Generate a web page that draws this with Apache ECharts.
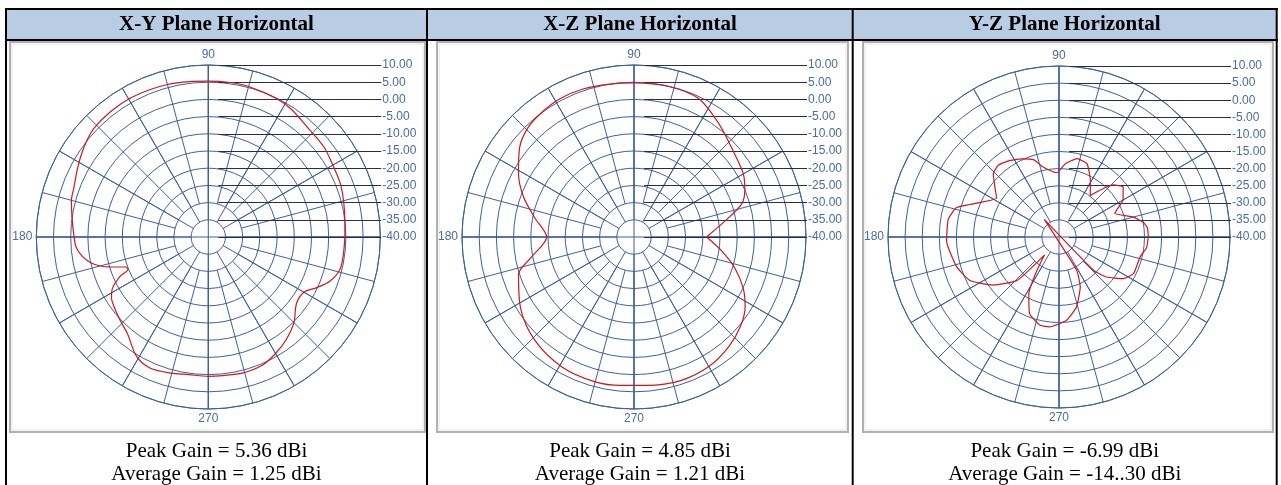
<!DOCTYPE html>
<html>
<head>
<meta charset="utf-8">
<script src="https://cdn.jsdelivr.net/npm/echarts@6/dist/echarts.min.js"></script>
<style>
html, body { margin: 0; padding: 0; background: #fff; }
#container { width: 1281px; height: 485px; }
</style>
</head>
<body>
<div id="container"></div>
<script>
// panel texts
var titles = ['X-Y Plane Horizontal', 'X-Z Plane Horizontal', 'Y-Z Plane Horizontal'];
var peakText = ['Peak Gain = 5.36 dBi', 'Peak Gain = 4.85 dBi', 'Peak Gain = -6.99 dBi'];
var avgText = ['Average Gain = 1.25 dBi', 'Average Gain = 1.21 dBi', 'Average Gain = -14..30 dBi'];

// gain scale (dBi) and labelled angles
var gainMin = -40, gainMax = 10, gainStep = 5;
var angleLabels = [90, 180, 270];

// X-Y plane: angle (deg) / gain (dBi)
var xyAngle = [0, 7, 15, 22, 30, 38, 48, 57, 64, 75, 82, 90, 97, 105, 112, 120, 128, 136, 141, 146, 150, 154, 160, 165, 172, 178,
  185, 192, 197, 200, 202, 204, 208, 212, 216, 223, 230, 239, 246, 254, 262, 270, 276, 284, 293, 300, 307, 315, 323, 330,
  335, 340, 346, 352, 360];
var xyGain = [-0.3, 0.0, 0.7, 1.4, 1.8, 2.6, 3.0, 4.3, 4.9, 5.3, 5.36, 5.3, 5.5, 5.9, 6.1, 6.3, 6.2, 5.9, 5.2, 4.2, 3.4, 2.6, 1.6, 1.2, 0.0, -0.8,
  -1.6, -4.8, -10.2, -14.5, -14.8, -12.0, -8.5, -6.8, -6.0, -4.8, -3.4, 0.5, 1.7, 1.1, 0.4, 0.5, 0.5, 0.8, 0.4, -0.9, -2.5, -4.8, -7.9, -7.9,
  -5.2, -2.4, -0.6, -0.4, -0.3];

// X-Z plane
var xzAngle = [0, 10, 17, 23, 30, 40, 53, 65, 77, 90, 99, 109, 118, 126, 134, 142, 151, 160, 169, 180, 191, 198, 212, 226, 241, 255,
  265, 275, 288, 300, 311, 320, 328, 335, 343, 351, 360];
var xzGain = [-18.9, -13.1, -7.3, -5.0, -3.3, -2.0, 1.1, 4.4, 4.9, 4.8, 5.0, 5.5, 5.6, 5.1, 4.3, 2.2, -1.6, -5.8, -10.6, -14.6, -9.7, -4.7, -1.1, 1.6, 3.2, 3.6,
  3.3, 3.3, 3.9, 3.5, 2.1, 0.4, -1.9, -5.0, -9.4, -14.2, -18.9];

// Y-Z plane
var yzAngle = [0, 6, 10, 15, 23, 30, 38, 44, 53, 61, 69, 77, 85, 92, 98, 104, 108, 115, 123, 130, 136, 142, 148, 160, 164, 171,
  182, 196, 206, 216, 226, 231, 237, 242, 249, 258, 264, 275, 284, 293, 298, 310, 316, 320, 327, 334, 346, 353, 360];
var yzGain = [-13.9, -14.0, -15.0, -17.5, -22.3, -18.4, -16.2, -18.1, -24.8, -21.1, -17.1, -16.5, -18.5, -21.2, -20.3, -18.5, -16.3, -14.8, -13.4, -12.5, -13.3, -16.2, -18.5, -12.2, -8.8, -7.2,
  -7.1, -8.8, -11.0, -16.1, -22.3, -33.3, -27.7, -21.2, -16.0, -13.6, -13.6, -15.5, -18.9, -24.1, -29.0, -46.7, -26.0, -21.8, -17.6, -15.7, -15.6, -14.2, -13.9];

var panels = [
  { angle: xyAngle, gain: xyGain },
  { angle: xzAngle, gain: xzGain },
  { angle: yzAngle, gain: yzGain }
];

// layout
var centers = [[208.3, 237], [634, 237], [1059, 237]];
var radii = [172, 172, 171];
var colCenters = [216.5, 640, 1064.7];
var frames = [[10, 42, 415, 390], [437, 42, 411, 390], [863, 42, 410, 390]];

var gridBlue = '#3f5fa3';
var labelBlue = '#4a6aa6';
var refLine = '#2c2c44';
var labelFont = '"Liberation Sans", Arial, sans-serif';
var serifFont = '"Liberation Serif", "Times New Roman", serif';

var dom = document.getElementById('container');
var myChart = echarts.init(dom, null, { renderer: 'canvas' });

var polar = [], angleAxis = [], radiusAxis = [], grid = [], xAxis = [], yAxis = [], series = [];

panels.forEach(function (p, i) {
  var c = centers[i], R = radii[i];
  // three stacked polars: axes through centre, 30 deg spokes from ring 1, 15 deg spokes from ring 2
  var inner = [0, R / 10, R / 5];
  var step = [90, 30, 15];
  for (var k = 0; k < 3; k++) {
    polar.push({ center: c, radius: [inner[k], R] });
    angleAxis.push({
      polarIndex: 3 * i + k,
      type: 'value', min: 0, max: 360, interval: step[k],
      startAngle: 0, clockwise: false,
      axisLine: { show: k === 0, lineStyle: { color: gridBlue, width: 1 } },
      axisTick: { show: false },
      axisLabel: {
        show: k === 0, margin: 4, color: labelBlue, fontSize: 12, fontFamily: labelFont,
        formatter: function (v) { return angleLabels.indexOf(v) >= 0 ? String(v) : ''; }
      },
      splitLine: { show: true, lineStyle: { color: gridBlue, width: 1 } },
      z: 1
    });
    radiusAxis.push({
      polarIndex: 3 * i + k,
      type: 'value', min: gainMin, max: gainMax, interval: gainStep,
      axisLine: { show: false }, axisTick: { show: false }, axisLabel: { show: false },
      splitLine: { show: k === 0, lineStyle: { color: gridBlue, width: 1 } },
      z: 1
    });
  }
  // horizontal reference lines with gain labels on the right
  grid.push({ left: c[0] + 10, top: c[1] - R, width: R - 9, height: R });
  xAxis.push({ gridIndex: i, type: 'value', min: 0, max: 1, show: false });
  yAxis.push({
    gridIndex: i, type: 'value', position: 'right',
    min: gainMin, max: gainMax, interval: gainStep,
    axisLine: { show: false }, axisTick: { show: false },
    axisLabel: {
      margin: 1, color: labelBlue, fontSize: 12, fontFamily: labelFont,
      formatter: function (v) { return v.toFixed(2); }
    },
    splitLine: { show: true, lineStyle: { color: refLine, width: 1 } },
    z: 2
  });
  series.push({
    type: 'line',
    coordinateSystem: 'polar',
    polarIndex: 3 * i,
    data: p.gain.map(function (g, k) { return [g, p.angle[k]]; }),
    symbol: 'none',
    smooth: i === 2 ? 0.15 : 0.3,
    lineStyle: { color: '#d01818', width: 1.2 },
    z: 10
  });
});

var graphic = [];
// header band
graphic.push({ type: 'rect', shape: { x: 6, y: 9, width: 1271, height: 31 }, style: { fill: '#b8cce4' }, z: -10 });
// plot frames
frames.forEach(function (f) {
  graphic.push({ type: 'rect', shape: { x: f[0], y: f[1], width: f[2], height: f[3] }, style: { fill: 'none', stroke: '#b0b0b0', lineWidth: 2 }, z: -5 });
  graphic.push({ type: 'rect', shape: { x: f[0] + 2, y: f[1] + 2, width: f[2] - 4, height: f[3] - 4 }, style: { fill: 'none', stroke: '#e4e4e4', lineWidth: 1 }, z: -5 });
});
// table borders
var hLines = [9, 40];
hLines.forEach(function (y) {
  graphic.push({ type: 'line', shape: { x1: 5, y1: y, x2: 1278, y2: y }, style: { stroke: '#000', lineWidth: 2 }, z: 20 });
});
[6, 427, 852.7, 1276.7].forEach(function (x) {
  graphic.push({ type: 'line', shape: { x1: x, y1: 8, x2: x, y2: 490 }, style: { stroke: '#000', lineWidth: 2 }, z: 20 });
});
// texts
titles.forEach(function (t, i) {
  graphic.push({ type: 'text', x: colCenters[i], y: 25, style: { text: t, font: 'bold 21px ' + serifFont, fill: '#000', align: 'center', verticalAlign: 'middle' }, z: 20 });
  graphic.push({ type: 'text', x: colCenters[i], y: 451, style: { text: peakText[i], font: '21px ' + serifFont, fill: '#000', align: 'center', verticalAlign: 'middle' }, z: 20 });
  graphic.push({ type: 'text', x: colCenters[i], y: 474, style: { text: avgText[i], font: '21px ' + serifFont, fill: '#000', align: 'center', verticalAlign: 'middle' }, z: 20 });
});

var option = {
  animation: false,
  backgroundColor: '#fff',
  polar: polar,
  angleAxis: angleAxis,
  radiusAxis: radiusAxis,
  grid: grid,
  xAxis: xAxis,
  yAxis: yAxis,
  series: series,
  graphic: graphic
};
myChart.setOption(option);
</script>
</body>
</html>
